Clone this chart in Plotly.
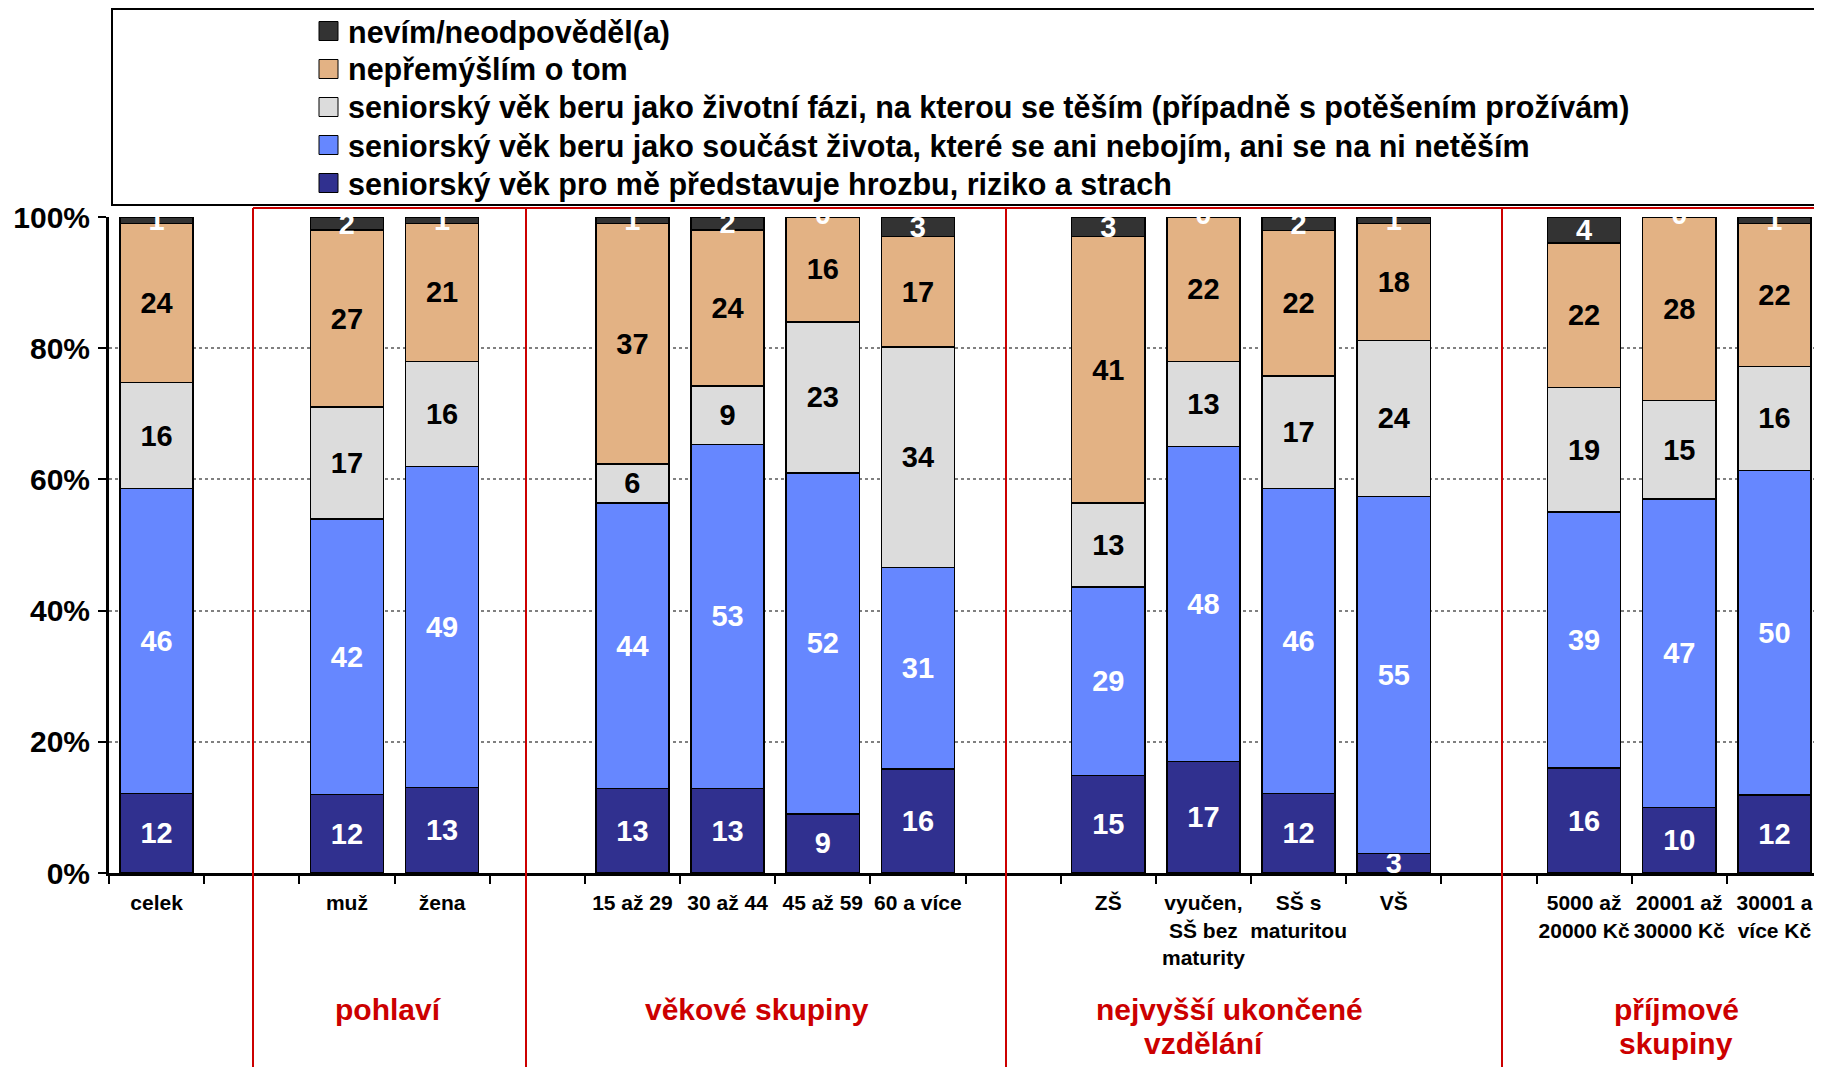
import plotly.graph_objects as go

categories = ["celek", " ", "muž", "žena", "  ",
              "15 až 29", "30 až 44", "45 až 59", "60 a více", "   ",
              "ZŠ", "vyučen,<br>SŠ bez<br>maturity", "SŠ s<br>maturitou", "VŠ", "    ",
              "5000 až<br>20000 Kč", "20001 až<br>30000 Kč", "30001 a<br>více Kč"]

# values per category (None = empty gap slot)
hrozba      = [12, None, 12, 13, None, 13, 13, 9, 16, None, 15, 17, 12, 3, None, 16, 10, 12]
soucast     = [46, None, 42, 49, None, 44, 53, 52, 31, None, 29, 48, 46, 55, None, 39, 47, 50]
tesim       = [16, None, 17, 16, None, 6, 9, 23, 34, None, 13, 13, 17, 24, None, 19, 15, 16]
nepremyslim = [24, None, 27, 21, None, 37, 24, 16, 17, None, 41, 22, 22, 18, None, 22, 28, 22]
nevim       = [1, None, 2, 1, None, 1, 2, 0, 3, None, 3, 0, 2, 1, None, 4, 0, 1]

series_names = [
    "seniorský věk pro mě představuje hrozbu, riziko a strach",
    "seniorský věk beru jako součást života, které se ani nebojím, ani se na ni netěším",
    "seniorský věk beru jako životní fázi, na kterou se těším (případně s potěšením prožívám)",
    "nepřemýšlím o tom",
    "nevím/neodpověděl(a)",
]
series_values = [hrozba, soucast, tesim, nepremyslim, nevim]
series_colors = ["#30308f", "#6687ff", "#dcdcdc", "#e3b284", "#333333"]
label_colors = ["white", "white", "black", "black", "white"]

y_ticks = [0, 20, 40, 60, 80, 100]
y_ticklabels = ["0%", "20%", "40%", "60%", "80%", "100%"]

group_labels = ["pohlaví", "věkové skupiny", "nejvyšší ukončené", "vzdělání", "příjmové", "skupiny"]

FONT = "Liberation Sans"
# the page body adds an 8 px margin; the figure is sized so the screen layout matches
OFF = 8
SW, SH = 1822, 1067                 # screen size
W, H = SW - OFF, SH - OFF           # figure size
PL, PR, PT, PB = 109, 1822, 217, 873  # plot area in screen pixels
L, R, T, B = PL - OFF, SW - PR, PT - OFF, SH - PB


def px_to_paper_x(px):
    return (px - PL) / (PR - PL)


def px_to_paper_y(py):
    return (PB - py) / (PB - PT)


fig = go.Figure()
for name, vals, col, lc in zip(series_names, series_values, series_colors, label_colors):
    fig.add_trace(go.Bar(
        x=categories, y=vals, name=name, showlegend=False,
        marker=dict(color=col, line=dict(color="black", width=1.5)),
        text=[("" if v is None else str(v)) for v in vals],
        textposition="inside", insidetextanchor="middle", textangle=0,
        textfont=dict(family=FONT, size=29, color=lc, weight="bold"),
        hoverinfo="skip",
    ))

# labels of zero-size top segments (plotly draws no text inside an empty bar)
zx, zy, zt = [], [], []
for i, c in enumerate(categories):
    if nevim[i] == 0:
        total = sum(s[i] for s in series_values)
        below = sum(s[i] for s in series_values[:-1])
        zx.append(c)
        zy.append((below + nevim[i] / 2) / total * 100)
        zt.append(str(nevim[i]))
fig.add_trace(go.Scatter(x=zx, y=zy, text=zt, mode="text", textposition="middle center",
                         textfont=dict(family=FONT, size=29, color="white", weight="bold"),
                         showlegend=False, hoverinfo="skip", cliponaxis=True))

shapes = []
annotations = []
# legend frame
shapes.append(dict(type="rect", xref="paper", yref="paper",
                   x0=px_to_paper_x(112), x1=1.02, y0=px_to_paper_y(205), y1=px_to_paper_y(9),
                   line=dict(color="black", width=2), fillcolor="rgba(0,0,0,0)", layer="above"))
# legend entries (top: last series)
legend_centers = [31, 69, 107, 145, 183]
for (name, col), cy in zip(reversed(list(zip(series_names, series_colors))), legend_centers):
    shapes.append(dict(type="rect", xref="paper", yref="paper",
                       x0=px_to_paper_x(319), x1=px_to_paper_x(338),
                       y0=px_to_paper_y(cy + 9.5), y1=px_to_paper_y(cy - 9.5),
                       line=dict(color="black", width=1), fillcolor=col, layer="above"))
    annotations.append(dict(x=px_to_paper_x(346), y=px_to_paper_y(cy + 1), xref="paper", yref="paper",
                            text=name, showarrow=False, xanchor="left", yanchor="middle",
                            font=dict(family=FONT, size=30.5, color="black", weight="bold")))

# red group separators
red = "#cc0000"
for px in [253, 526, 1006, 1502]:
    shapes.append(dict(type="line", xref="paper", yref="paper",
                       x0=px_to_paper_x(px), x1=px_to_paper_x(px),
                       y0=px_to_paper_y(208), y1=px_to_paper_y(1080),
                       line=dict(color=red, width=2), layer="above"))
shapes.append(dict(type="line", xref="paper", yref="paper",
                   x0=px_to_paper_x(253), x1=1.01, y0=px_to_paper_y(208), y1=px_to_paper_y(208),
                   line=dict(color=red, width=2), layer="above"))

group_pos = [(388, 1010), (757, 1010), (1229, 1010), (1204, 1043), (1676, 1010), (1676, 1043)]
for text, (gx, gy) in zip(group_labels, group_pos):
    annotations.append(dict(x=px_to_paper_x(gx), y=px_to_paper_y(gy), xref="paper", yref="paper",
                            text=text, showarrow=False, xanchor="center", yanchor="middle",
                            font=dict(family=FONT, size=30, color=red, weight="bold")))

fig.update_layout(
    width=W, height=H,
    margin=dict(l=L, r=R, t=T, b=B, pad=0, autoexpand=False),
    barmode="stack", barnorm="percent", bargap=0.23,
    plot_bgcolor="white", paper_bgcolor="white",
    uniformtext=dict(minsize=29, mode="show"),
    showlegend=False,
    shapes=shapes,
    annotations=annotations,
    xaxis=dict(type="category", categoryorder="array", categoryarray=categories,
               range=[-0.5, 17.5], tickson="boundaries", ticks="outside", ticklen=8, tickwidth=2,
               tickcolor="black", showline=True, linecolor="black", linewidth=3,
               showgrid=False, tickangle=0, automargin=False,
               tickfont=dict(family=FONT, size=21, color="black", weight="bold"),
               ticklabelstandoff=9),
    yaxis=dict(range=[0, 100], tickmode="array", tickvals=y_ticks, ticktext=y_ticklabels,
               ticks="outside", ticklen=8, tickwidth=2, tickcolor="black",
               showline=True, linecolor="black", linewidth=3, automargin=False,
               showgrid=True, gridcolor="#808080", griddash="dot", gridwidth=2,
               zeroline=False,
               tickfont=dict(family=FONT, size=30, color="black", weight="bold"),
               ticklabelstandoff=2),
    font=dict(family=FONT),
)

fig.write_html("out.html")
